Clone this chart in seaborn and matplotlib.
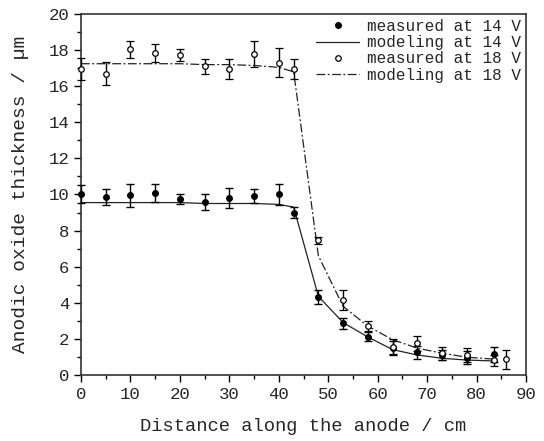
import numpy as np
import pandas as pd
import seaborn as sns
import matplotlib
matplotlib.use("Agg")
import matplotlib.pyplot as plt
from matplotlib.lines import Line2D
from matplotlib.ticker import MultipleLocator

sns.set_style("ticks")
plt.rcParams['font.family'] = ['Liberation Mono', 'DejaVu Sans']

# measured thickness, 14 V
x_14 = [0, 5, 10, 15, 20, 25, 30, 35, 40, 43, 48, 53, 58, 63, 68, 73, 78, 83.5]
y_14 = [10.05, 9.85, 9.95, 10.1, 9.75, 9.6, 9.8, 9.9, 10.0, 9.0, 4.3, 2.85, 2.1, 1.5, 1.25, 1.1, 0.95, 1.15]
err_14 = [0.5, 0.45, 0.65, 0.5, 0.3, 0.45, 0.55, 0.4, 0.6, 0.33, 0.38, 0.3, 0.25, 0.4, 0.35, 0.3, 0.35, 0.42]

# measured thickness, 18 V
x_18 = [0, 5, 10, 15, 20, 25, 30, 35, 40, 43, 48, 53, 58, 63, 68, 73, 78, 83.5, 86]
y_18 = [16.95, 16.7, 18.05, 17.85, 17.75, 17.1, 16.95, 17.8, 17.3, 16.95, 7.45, 4.15, 2.7, 1.57, 1.75, 1.2, 1.1, 0.8, 0.87]
err_18 = [0.6, 0.63, 0.48, 0.5, 0.33, 0.4, 0.57, 0.71, 0.8, 0.57, 0.22, 0.55, 0.26, 0.43, 0.4, 0.35, 0.4, 0.3, 0.53]

# modeled thickness
x_model = [0, 5, 10, 15, 20, 25, 30, 35, 40, 43, 48, 53, 58, 63, 68, 73, 78, 83.5]
model_14 = [9.55, 9.55, 9.55, 9.55, 9.55, 9.5, 9.5, 9.5, 9.45, 9.3, 4.35, 2.9, 2.1, 1.4, 1.1, 0.92, 0.82, 0.77]
model_18 = [17.25, 17.25, 17.25, 17.25, 17.25, 17.2, 17.2, 17.15, 17.05, 16.8, 6.6, 3.8, 2.7, 1.95, 1.48, 1.2, 0.98, 0.87]

labels = ['measured at 14 V', 'modeling at 14 V', 'measured at 18 V', 'modeling at 18 V']

model_df = pd.DataFrame({'x': x_model, 'm14': model_14, 'm18': model_18})

fig, ax = plt.subplots(figsize=(5.44, 4.41), dpi=100)
fig.subplots_adjust(left=0.149, right=0.967, top=0.968, bottom=0.150)

dashdot = (0, (7, 2, 1.5, 2))
sns.lineplot(data=model_df, x='x', y='m14', color='#222222', lw=0.9, ax=ax)
sns.lineplot(data=model_df, x='x', y='m18', color='#222222', lw=0.9, linestyle=dashdot, ax=ax)

ax.errorbar(x_14, y_14, yerr=err_14, fmt='o', ms=4, mfc='black', mec='black',
            ecolor='black', elinewidth=1, capsize=3, capthick=1, clip_on=False, zorder=3)
ax.errorbar(x_18, y_18, yerr=err_18, fmt='o', ms=4, mfc='white', mec='black', mew=0.9,
            ecolor='black', elinewidth=1, capsize=3, capthick=1, clip_on=False, zorder=4)

ax.set_xlim(0, 90)
ax.set_ylim(0, 20)
ax.xaxis.set_major_locator(MultipleLocator(10))
ax.xaxis.set_minor_locator(MultipleLocator(5))
ax.yaxis.set_major_locator(MultipleLocator(2))
ax.yaxis.set_minor_locator(MultipleLocator(1))
ax.tick_params(which='major', direction='out', length=5, width=1, labelsize=12.5, color='black')
ax.tick_params(which='minor', direction='out', length=3, width=1, color='black')
for s in ax.spines.values():
    s.set_linewidth(1.2)
    s.set_color('#333333')

ax.set_xlabel('Distance along the anode / cm', fontsize=13.5, labelpad=12)
ax.set_ylabel('Anodic oxide thickness / µm', fontsize=14, labelpad=14)

handles = [
    Line2D([], [], ls='none', marker='o', ms=4, mfc='black', mec='black'),
    Line2D([], [], color='#222222', lw=0.9),
    Line2D([], [], ls='none', marker='o', ms=4, mfc='white', mec='black', mew=0.9),
    Line2D([], [], color='#222222', lw=0.9, linestyle=dashdot),
]
ax.legend(handles, labels, loc='upper right', frameon=False, fontsize=11.5,
          handlelength=2.7, labelspacing=0.08, handletextpad=0.5,
          borderaxespad=0.1, borderpad=0.2)

fig.savefig('out.png', dpi=100)
